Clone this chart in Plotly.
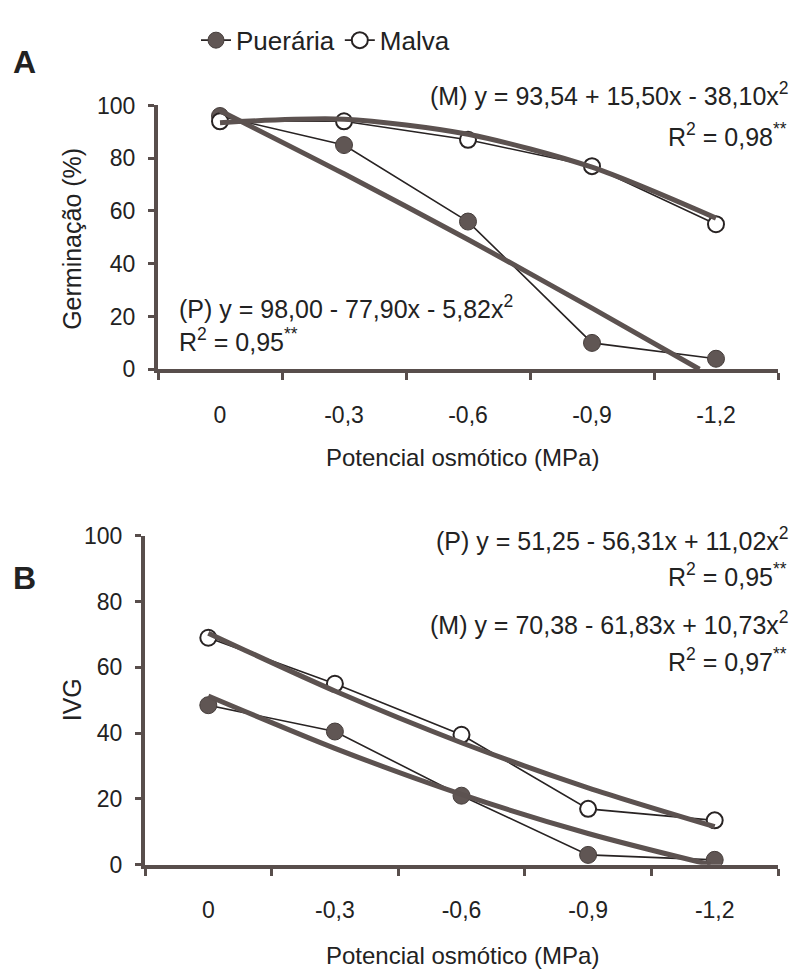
import plotly.graph_objects as go

# ---------------- data ----------------
potentials = [0, -0.3, -0.6, -0.9, -1.2]
tick_labels = ["0", "-0,3", "-0,6", "-0,9", "-1,2"]
boundaries = [0.15, -0.15, -0.45, -0.75, -1.05, -1.35]

# Panel A - Germinação (%)
germ_pueraria = [96, 85, 56, 10, 4]
germ_malva = [94, 94, 87, 77, 55]
# trend lines
trendA_p_x = [0, -0.3, -0.6, -0.9, -1.16]
trendA_p_y = [98.0, 74.1, 49.2, 23.2, 0.0]
trendA_m_x = [0, -0.3, -0.6, -0.9, -1.2]
trendA_m_y = [93.5, 94.8, 89.1, 76.6, 57.3]

# Panel B - IVG
ivg_pueraria = [48.5, 40.5, 21, 3, 1.5]
ivg_malva = [69, 55, 39.5, 17, 13.5]
trendB_p_x = [0, -0.3, -0.6, -0.9, -1.19]
trendB_p_y = [51.3, 35.4, 21.4, 9.5, 0.0]
trendB_m_x = [0, -0.3, -0.6, -0.9, -1.2]
trendB_m_y = [70.4, 52.8, 37.1, 23.4, 11.6]

y_ticks = [0, 20, 40, 60, 80, 100]

# ---------------- style ----------------
W, H = 798, 980
FONT = "Liberation Sans, Arial, Helvetica, sans-serif"
AXC = "rgb(88,78,76)"
MARK = "rgb(96,86,84)"
THIN = "rgb(40,35,35)"
TREND = "rgb(92,82,80)"
TXT = "#222"

def px(x):
    return x / W

def py(y):
    return 1 - y / H

fig = go.Figure()

def add_panel(xa, ya, pue, mal, tpx, tpy, tmx, tmy, legend):
    fig.add_trace(go.Scatter(
        x=potentials, y=pue, xaxis=xa, yaxis=ya, mode="lines+markers",
        name="Puerária", showlegend=legend,
        line=dict(color=THIN, width=1.6),
        marker=dict(symbol="circle", size=17, color=MARK,
                    line=dict(color="rgb(70,62,60)", width=1)),
    ))
    fig.add_trace(go.Scatter(
        x=potentials, y=mal, xaxis=xa, yaxis=ya, mode="lines+markers",
        name="Malva", showlegend=legend,
        line=dict(color=THIN, width=1.6),
        marker=dict(symbol="circle", size=16, color="white",
                    line=dict(color=THIN, width=2)),
    ))
    for tx, ty in ((tpx, tpy), (tmx, tmy)):
        fig.add_trace(go.Scatter(
            x=tx, y=ty, xaxis=xa, yaxis=ya, mode="lines", showlegend=False,
            line=dict(color=TREND, width=5, shape="spline", smoothing=0.8),
            hoverinfo="skip",
        ))

add_panel("x", "y", germ_pueraria, germ_malva,
          trendA_p_x, trendA_p_y, trendA_m_x, trendA_m_y, True)
add_panel("x2", "y2", ivg_pueraria, ivg_malva,
          trendB_p_x, trendB_p_y, trendB_m_x, trendB_m_y, False)

def xaxis_cfg(left, right, anchor):
    return dict(
        domain=[px(left), px(right)], anchor=anchor,
        range=[0.15, -1.35], tickmode="array", tickvals=potentials,
        ticktext=tick_labels, ticks="", showgrid=False, zeroline=False,
        showline=True, linecolor=AXC, linewidth=4,
        tickfont=dict(family=FONT, size=23, color=TXT),
        ticklabelstandoff=22,
        minor=dict(tickmode="array", tickvals=boundaries, ticks="outside",
                   ticklen=7, tickwidth=3, tickcolor=AXC, showgrid=False),
    )

def yaxis_cfg(bottom, top, anchor):
    return dict(
        domain=[py(bottom), py(top)], anchor=anchor,
        range=[0, 100], tickmode="array", tickvals=y_ticks,
        ticks="outside", ticklen=6, tickwidth=3, tickcolor=AXC,
        showgrid=False, zeroline=False, showline=True, linecolor=AXC,
        linewidth=4, tickfont=dict(family=FONT, size=23, color=TXT),
        ticklabelstandoff=8,
    )

fig.update_layout(
    width=W, height=H, margin=dict(l=0, r=0, t=0, b=0),
    paper_bgcolor="white", plot_bgcolor="white",
    font=dict(family=FONT, size=23, color=TXT),
    xaxis=xaxis_cfg(158, 778, "y"),
    yaxis=yaxis_cfg(366, 95, "x"),
    xaxis2=xaxis_cfg(145, 778, "y2"),
    yaxis2=yaxis_cfg(875, 537, "x2"),
    legend=dict(orientation="h", x=px(196), y=py(28), xanchor="left",
                yanchor="middle", font=dict(family=FONT, size=26, color=TXT),
                bgcolor="rgba(0,0,0,0)", itemwidth=30, tracegroupgap=0),
    showlegend=True,
)

def ann(text, x, y, xanchor="center", size=24, angle=0, bold=False):
    fig.add_annotation(
        text=f"<b>{text}</b>" if bold else text, x=px(x), y=py(y),
        xref="paper", yref="paper", xanchor=xanchor, yanchor="middle",
        showarrow=False, textangle=angle, borderpad=0,
        font=dict(family=FONT, size=size, color=TXT),
    )

ann("A", 24, 50, size=32, bold=True)
ann("B", 24, 580, size=32, bold=True)

ann("(M) y = 93,54 + 15,50x - 38,10x<sup>2</sup>", 790, 83, "right", size=25)
ann("R<sup>2</sup> = 0,98<sup>**</sup>", 788, 125, "right", size=25)
ann("(P) y = 98,00 - 77,90x - 5,82x<sup>2</sup>", 178, 302, "left", size=25)
ann("R<sup>2</sup> = 0,95<sup>**</sup>", 178, 336, "left", size=25)

ann("(P) y = 51,25 - 56,31x + 11,02x<sup>2</sup>", 790, 540, "right", size=25)
ann("R<sup>2</sup> = 0,95<sup>**</sup>", 788, 577, "right", size=25)
ann("(M) y = 70,38 - 61,83x + 10,73x<sup>2</sup>", 790, 627, "right", size=25)
ann("R<sup>2</sup> = 0,97<sup>**</sup>", 788, 665, "right", size=25)

ann("Germinação (%)", 72, 232, angle=-90, size=25)
ann("IVG", 72, 706, angle=-90, size=25)
ann("Potencial osmótico (MPa)", 462, 457, size=24)
ann("Potencial osmótico (MPa)", 462, 968, size=24)

fig.write_html(
    "out.html",
    config={"displayModeBar": False},
    post_script="document.body.style.margin='0';"
                "document.body.style.overflow='hidden';",
)
